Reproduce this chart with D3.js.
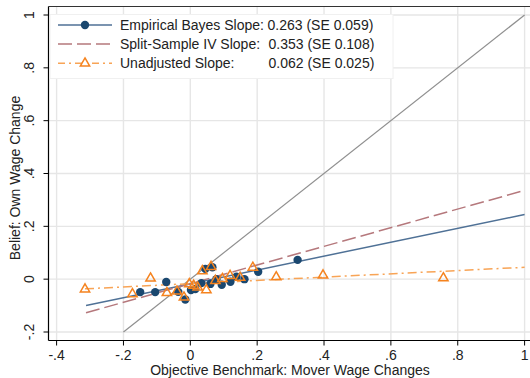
<!DOCTYPE html>
<html>
<head>
<meta charset="utf-8">
<script src="https://cdn.jsdelivr.net/npm/d3@7/dist/d3.min.js"></script>
<style>
  html, body { margin: 0; padding: 0; background: #fff; }
  svg { display: block; font-family: "Liberation Sans", Arial, Helvetica, sans-serif; }
</style>
</head>
<body>
<svg id="chart" width="530" height="378"></svg>
<script>
// Tick values and labels
const xTicks = [-0.4, -0.2, 0, 0.2, 0.4, 0.6, 0.8, 1];
const xTickLabels = ["-.4", "-.2", "0", ".2", ".4", ".6", ".8", "1"];
const yTicks = [-0.2, 0, 0.2, 0.4, 0.6, 0.8, 1];
const yTickLabels = ["-.2", "0", ".2", ".4", ".6", ".8", "1"];

// Empirical Bayes estimates (x = shrunk benchmark, y = belief)
const ebX = [-0.150, -0.105, -0.072, -0.036, -0.015, 0.002, 0.015, 0.033, 0.045, 0.066, 0.060, 0.078, 0.094, 0.120, 0.138, 0.162, 0.203, 0.321];
const ebY = [-0.049, -0.049, -0.011, -0.048, -0.077, -0.041, -0.037, -0.015, 0.039, 0.045, -0.018, 0.000, -0.021, -0.010, 0.009, 0.000, 0.028, 0.073];

// Unadjusted estimates
const rawX = [-0.315, -0.173, -0.119, -0.070, -0.040, -0.019, -0.003, 0.010, 0.022, 0.036, 0.062, 0.048, 0.075, 0.096, 0.119, 0.149, 0.187, 0.257, 0.397, 0.757];
const rawY = [-0.038, -0.056, 0.003, -0.052, -0.046, -0.069, -0.018, -0.024, -0.031, 0.031, 0.047, -0.041, -0.006, 0.001, 0.013, 0.006, 0.044, 0.008, 0.015, 0.004];

// Fitted lines: slope, intercept, x extent
const fitNames = ["Empirical Bayes Slope:", "Split-Sample IV Slope:", "Unadjusted Slope:"];
const fitSlopes = [0.263, 0.353, 0.062];
const fitSE = [0.059, 0.108, 0.025];
const fitIntercepts = [-0.018, -0.017, -0.017];
const fitX0 = [-0.312, -0.312, -0.315];
const fitX1 = [1, 1, 1];

// 45-degree reference line
const diagX = [-0.2, 1];

const svg = d3.select("#chart");

const frame = { left: 48.5, top: 6.5, right: 532, bottom: 340.5 };
const x = d3.scaleLinear().domain([-0.4, 1]).range([56.6, 524.6]);
const y = d3.scaleLinear().domain([-0.2, 1]).range([332, 15]);

const colors = {
  ebLine: "#4f7196",
  ebDot: "#1a476f",
  iv: "#b5787c",
  rawLine: "#f8a456",
  rawMark: "#f5831f",
  diag: "#8f8f8f",
  grid: "#e6e6e6"
};

// Grid
const grid = svg.append("g");
grid.selectAll("line.vx").data(xTicks).join("line")
  .attr("x1", d => x(d)).attr("x2", d => x(d))
  .attr("y1", frame.top).attr("y2", frame.bottom)
  .attr("stroke", colors.grid).attr("stroke-width", 1.4);
grid.selectAll("line.hy").data(yTicks).join("line")
  .attr("class", "hy")
  .attr("x1", frame.left).attr("x2", frame.right)
  .attr("y1", d => y(d)).attr("y2", d => y(d))
  .attr("stroke", colors.grid).attr("stroke-width", 1.4);

// 45-degree line
svg.append("line")
  .attr("x1", x(diagX[0])).attr("y1", y(diagX[0]))
  .attr("x2", x(diagX[1])).attr("y2", y(diagX[1]))
  .attr("stroke", colors.diag).attr("stroke-width", 1.2);

// Fit lines
const fitStyles = [
  { stroke: colors.ebLine, dash: null },
  { stroke: colors.iv, dash: "14,5" },
  { stroke: colors.rawLine, dash: "9,4,2,4" }
];
fitSlopes.forEach((b, i) => {
  const f = v => fitIntercepts[i] + b * v;
  svg.append("line")
    .attr("x1", x(fitX0[i])).attr("y1", y(f(fitX0[i])))
    .attr("x2", x(fitX1[i])).attr("y2", y(f(fitX1[i])))
    .attr("stroke", fitStyles[i].stroke)
    .attr("stroke-width", 1.5)
    .attr("stroke-dasharray", fitStyles[i].dash);
});

// Empirical Bayes points
svg.append("g").selectAll("circle").data(d3.range(ebX.length)).join("circle")
  .attr("cx", i => x(ebX[i])).attr("cy", i => y(ebY[i]))
  .attr("r", 4.2).attr("fill", colors.ebDot);

// Unadjusted points
const tri = d3.symbol().type(d3.symbolTriangle).size(38);
svg.append("g").selectAll("path").data(d3.range(rawX.length)).join("path")
  .attr("transform", i => `translate(${x(rawX[i])},${y(rawY[i])})`)
  .attr("d", tri)
  .attr("fill", "none").attr("stroke", colors.rawMark).attr("stroke-width", 1.5);

// Frame and axes
svg.append("line").attr("x1", frame.left).attr("x2", frame.right)
  .attr("y1", frame.top).attr("y2", frame.top)
  .attr("stroke", "#333").attr("stroke-width", 1.2);
svg.append("line").attr("x1", frame.left).attr("x2", frame.left)
  .attr("y1", frame.top).attr("y2", frame.bottom)
  .attr("stroke", "#000").attr("stroke-width", 1.2);
svg.append("line").attr("x1", frame.left).attr("x2", frame.right)
  .attr("y1", frame.bottom).attr("y2", frame.bottom)
  .attr("stroke", "#000").attr("stroke-width", 1.2);

// X ticks and labels
const xt = svg.append("g");
xt.selectAll("line").data(xTicks).join("line")
  .attr("x1", d => x(d)).attr("x2", d => x(d))
  .attr("y1", frame.bottom).attr("y2", frame.bottom + 5)
  .attr("stroke", "#000").attr("stroke-width", 1);
xt.selectAll("text").data(xTicks).join("text")
  .attr("x", d => x(d)).attr("y", 360)
  .attr("text-anchor", "middle").attr("font-size", 14).attr("fill", "#222")
  .text((d, i) => xTickLabels[i]);

// Y ticks and labels
const yt = svg.append("g");
yt.selectAll("line").data(yTicks).join("line")
  .attr("x1", frame.left - 5).attr("x2", frame.left)
  .attr("y1", d => y(d)).attr("y2", d => y(d))
  .attr("stroke", "#000").attr("stroke-width", 1);
yt.selectAll("text").data(yTicks).join("text")
  .attr("transform", d => `translate(33.5,${y(d)}) rotate(-90)`)
  .attr("text-anchor", "middle").attr("font-size", 14).attr("fill", "#222")
  .text((d, i) => yTickLabels[i]);

// Axis titles
svg.append("text").attr("x", 290).attr("y", 374.5)
  .attr("text-anchor", "middle").attr("font-size", 14).attr("fill", "#222")
  .text("Objective Benchmark: Mover Wage Changes");
svg.append("text").attr("transform", "translate(20,178) rotate(-90)")
  .attr("text-anchor", "middle").attr("font-size", 14).attr("fill", "#222")
  .text("Belief: Own Wage Change");

// Legend
const lg = svg.append("g");
lg.append("rect").attr("x", 50).attr("y", 14.5).attr("width", 343).attr("height", 64)
  .attr("fill", "#fff").attr("stroke", "#f0f0f0").attr("stroke-width", 1);
const rowY = [25, 44, 63.3];
fitNames.forEach((name, i) => {
  lg.append("line").attr("x1", 58).attr("x2", 112)
    .attr("y1", rowY[i]).attr("y2", rowY[i])
    .attr("stroke", fitStyles[i].stroke).attr("stroke-width", 1.5)
    .attr("stroke-dasharray", i === 1 ? "14,5" : (i === 2 ? "7,4,2,4" : null));
  lg.append("text").attr("x", 120).attr("y", rowY[i] + 5)
    .attr("font-size", 14).attr("fill", "#222").text(name);
  lg.append("text").attr("x", i === 0 ? 267.5 : 268.5).attr("y", rowY[i] + 5)
    .attr("font-size", 14).attr("fill", "#222")
    .text(`${fitSlopes[i].toFixed(3)} (SE ${fitSE[i].toFixed(3)})`);
});
lg.append("circle").attr("cx", 85).attr("cy", rowY[0]).attr("r", 4.2).attr("fill", colors.ebDot);
lg.append("path").attr("transform", `translate(85,${rowY[2]})`).attr("d", tri)
  .attr("fill", "#fff").attr("stroke", colors.rawMark).attr("stroke-width", 1.5);
</script>
</body>
</html>
